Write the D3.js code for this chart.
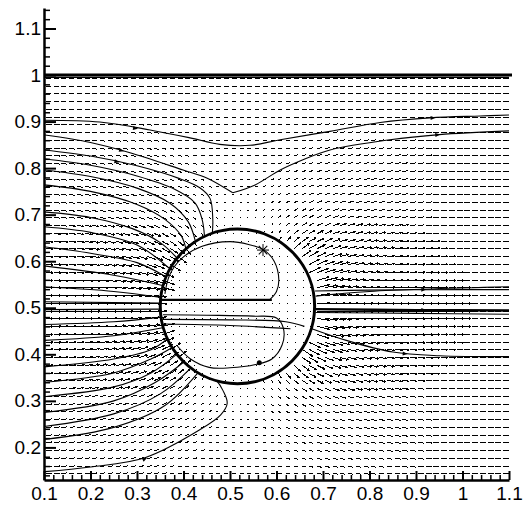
<!DOCTYPE html>
<html>
<head>
<meta charset="utf-8">
<script src="https://cdn.jsdelivr.net/npm/d3@7"></script>
<style>
  body { margin: 0; background: #fff; }
  svg { display: block; }
  .tick text { font-family: "Liberation Sans", Arial, sans-serif; font-size: 19px; fill: #000; }
</style>
</head>
<body>
<svg id="chart" width="524" height="508"></svg>
<script>
var width = 524,
    height = 508;

// axis ticks
const xMajor = [0.1, 0.2, 0.3, 0.4, 0.5, 0.6, 0.7, 0.8, 0.9, 1.0, 1.1];
const yMajor = [0.2, 0.3, 0.4, 0.5, 0.6, 0.7, 0.8, 0.9, 1.0, 1.1];
const minorStep = 0.02;

// drop (circle) and far field
const drop = { cx: 0.516, cy: 0.503, r: 0.166 };
const E0 = 1;

// vector grid
const gridX = d3.range(60).map(function (i) { return 0.104 + i / 60; });
const gridY = d3.range(52).map(function (i) { return 0.994 - i / 60; });

// streamlines [x, y]
const streamThin = [
    // top, passing over the drop
    [[0.102,0.903],[0.22,0.899],[0.328,0.882],[0.414,0.865],[0.478,0.851],[0.543,0.849],[0.608,0.861],[0.715,0.879],[0.823,0.898],[0.93,0.908],[1.038,0.912],[1.1,0.914]],
    // cusp line, left and right branch
    [[0.102,0.871],[0.2,0.855],[0.285,0.833],[0.399,0.796],[0.45,0.779],[0.506,0.747]],
    [[0.506,0.747],[0.554,0.764],[0.608,0.796],[0.657,0.818],[0.715,0.839],[0.844,0.861],[0.95,0.872],[1.1,0.88]],
    // upper-left family into the drop
    [[0.1,0.839],[0.2,0.826],[0.3,0.805],[0.39,0.778],[0.435,0.758],[0.457,0.735],[0.463,0.69],[0.462,0.66]],
    [[0.1,0.82],[0.2,0.806],[0.3,0.783],[0.38,0.755],[0.425,0.725],[0.44,0.69],[0.445,0.655]],
    [[0.1,0.796],[0.2,0.782],[0.3,0.757],[0.37,0.725],[0.41,0.685],[0.425,0.645]],
    [[0.1,0.764],[0.2,0.75],[0.3,0.722],[0.36,0.69],[0.395,0.655],[0.405,0.627]],
    [[0.1,0.706],[0.2,0.694],[0.29,0.67],[0.35,0.64],[0.385,0.608]],
    [[0.1,0.674],[0.2,0.662],[0.3,0.635],[0.368,0.586]],
    [[0.1,0.631],[0.2,0.617],[0.3,0.597],[0.36,0.568]],
    [[0.1,0.59],[0.25,0.57],[0.355,0.548]],
    // middle-left family
    [[0.1,0.545],[0.25,0.535],[0.352,0.522]],
    [[0.1,0.513],[0.35,0.51]],
    [[0.1,0.496],[0.35,0.497]],
    [[0.1,0.464],[0.25,0.47],[0.352,0.48]],
    [[0.1,0.43],[0.25,0.44],[0.355,0.457]],
    // lower-left family
    [[0.1,0.373],[0.25,0.39],[0.33,0.41],[0.365,0.433]],
    [[0.1,0.34],[0.25,0.36],[0.33,0.39],[0.375,0.414]],
    [[0.1,0.309],[0.25,0.33],[0.33,0.36],[0.385,0.4]],
    [[0.1,0.275],[0.25,0.3],[0.34,0.34],[0.4,0.383]],
    [[0.1,0.245],[0.25,0.272],[0.35,0.315],[0.415,0.37]],
    [[0.1,0.217],[0.25,0.243],[0.36,0.29],[0.43,0.359]],
    [[0.102,0.148],[0.2,0.158],[0.317,0.178],[0.435,0.238],[0.48,0.27],[0.494,0.295],[0.485,0.322],[0.47,0.345]],
    // right side, leaving the drop
    [[0.683,0.536],[0.8,0.538],[1.0,0.539],[1.1,0.539]],
    [[0.684,0.525],[0.8,0.535],[1.1,0.545]],
    [[0.684,0.49],[0.9,0.488],[1.1,0.486]],
    [[0.676,0.455],[0.75,0.43],[0.85,0.405],[0.95,0.397],[1.1,0.395]],
    // inside the drop
    [[0.585,0.517],[0.6,0.535],[0.605,0.56],[0.595,0.6],[0.572,0.625],[0.54,0.636],[0.5,0.642],[0.44,0.632],[0.395,0.605],[0.37,0.57],[0.36,0.53]],
    [[0.356,0.485],[0.45,0.484],[0.55,0.482],[0.6,0.478],[0.615,0.455],[0.612,0.42],[0.59,0.39],[0.555,0.378],[0.5,0.371],[0.455,0.372],[0.415,0.39],[0.385,0.42]],
    [[0.355,0.475],[0.5,0.474],[0.62,0.47],[0.66,0.46]],
    [[0.36,0.465],[0.5,0.462],[0.63,0.455]],
    // along the wall
    [[0.1,0.995],[1.1,0.995]]
];
const streamThick = [
    [[0.352,0.517],[0.59,0.517]],
    [[0.684,0.497],[0.9,0.495],[1.1,0.494]]
];
// small arrowheads sitting on streamlines [x, y, line index]
const streamHeads = [[0.3, 0.885, 0], [0.94, 0.908, 0], [0.27, 0.837, 1], [0.95, 0.872, 2], [0.26, 0.813, 4], [0.32, 0.177, 22], [0.92, 0.539, 23], [0.92, 0.495, -1], [0.88, 0.401, 26]];
const starPoint = [0.571, 0.624];
const blobPoint = [0.563, 0.382];

var x = d3.scaleLinear().domain([0.1, 1.1]).range([44, 509]);
var y = d3.scaleLinear().domain([0.13, 1.144]).range([480, 8]);

var svg = d3.select("#chart");

// field of a conducting drop in a uniform field
function field(px, py) {
    const dx = px - drop.cx, dy = py - drop.cy;
    const r2 = dx * dx + dy * dy;
    if (r2 < drop.r * drop.r) return null;
    const k = drop.r * drop.r / r2;
    const c2 = (dx * dx - dy * dy) / r2;
    const s2 = 2 * dx * dy / r2;
    return [E0 * (1 + k * c2), E0 * k * s2];
}

var arrows = [];
gridY.forEach(function (gy) {
    gridX.forEach(function (gx) {
        arrows.push({ x: gx, y: gy, v: field(gx, gy) });
    });
});

function arrowPath(d) {
    const x0 = Math.round(x(d.x)) + 0.5, y0 = Math.round(y(d.y)) + 0.5;
    if (!d.v) {
        return "M" + x0 + "," + y0 + "h1.5";
    }
    const m = Math.hypot(d.v[0], d.v[1]);
    const len = Math.min(12, 5 * Math.pow(m, 1.7));
    const ux = d.v[0] / m, uy = -d.v[1] / m;
    const x1 = x0 + ux * len, y1 = y0 + uy * len;
    var p = "M" + x0 + "," + y0 + "L" + x1 + "," + y1;
    if (len > 6) {
        const h = 2;
        const c = Math.cos(0.5), s = Math.sin(0.5);
        const bx1 = x1 - h * (ux * c - uy * s), by1 = y1 - h * (uy * c + ux * s);
        const bx2 = x1 - h * (ux * c + uy * s), by2 = y1 - h * (uy * c - ux * s);
        p += "M" + bx1 + "," + by1 + "L" + x1 + "," + y1 + "L" + bx2 + "," + by2;
    }
    return p;
}

svg.append("g")
    .attr("class", "vectors")
    .selectAll("path")
    .data(arrows)
    .join("path")
    .attr("d", arrowPath)
    .attr("fill", "none")
    .attr("stroke", "#000")
    .attr("stroke-width", 1)
    .attr("shape-rendering", "crispEdges");

var line = d3.line()
    .x(function (d) { return x(d[0]); })
    .y(function (d) { return y(d[1]); })
    .curve(d3.curveCatmullRom);

svg.append("g")
    .selectAll("path")
    .data(streamThin)
    .join("path")
    .attr("d", line)
    .attr("fill", "none")
    .attr("stroke", "#000")
    .attr("stroke-width", 1.1);

svg.append("g")
    .selectAll("path")
    .data(streamThick)
    .join("path")
    .attr("d", line)
    .attr("fill", "none")
    .attr("stroke", "#000")
    .attr("stroke-width", 2.4);

// arrowheads pointing along each streamline
function headAngle(d) {
    const pts = d[2] < 0 ? streamThick[1] : streamThin[d[2]];
    var best = 1;
    for (var i = 1; i < pts.length; i++) {
        if (pts[i][0] >= d[0]) { best = i; break; }
    }
    const a = pts[best - 1], b = pts[best];
    return Math.atan2(y(b[1]) - y(a[1]), x(b[0]) - x(a[0])) * 180 / Math.PI;
}
svg.append("g")
    .selectAll("path")
    .data(streamHeads)
    .join("path")
    .attr("d", "M-4,-2L1,0L-4,2Z")
    .attr("transform", function (d) {
        return "translate(" + x(d[0]) + "," + y(d[1]) + ") rotate(" + headAngle(d) + ")";
    })
    .attr("fill", "#000");

// star marker and blob inside the drop
var star = svg.append("g")
    .attr("transform", "translate(" + x(starPoint[0]) + "," + y(starPoint[1]) + ")");
[0, 45, 90, 135].forEach(function (a) {
    star.append("line")
        .attr("x1", -6).attr("x2", 6)
        .attr("transform", "rotate(" + a + ")")
        .attr("stroke", "#000").attr("stroke-width", 1);
});
svg.append("circle")
    .attr("cx", x(blobPoint[0]))
    .attr("cy", y(blobPoint[1]))
    .attr("r", 2.5)
    .attr("fill", "#000");

// drop outline
svg.append("ellipse")
    .attr("cx", x(drop.cx))
    .attr("cy", y(drop.cy))
    .attr("rx", x(drop.cx + drop.r) - x(drop.cx))
    .attr("ry", y(drop.cy - drop.r) - y(drop.cy))
    .attr("fill", "none")
    .attr("stroke", "#000")
    .attr("stroke-width", 3);

// wall at y = 1
svg.append("line")
    .attr("x1", x(0.1)).attr("x2", x(1.1) + 3)
    .attr("y1", y(1)).attr("y2", y(1))
    .attr("stroke", "#000")
    .attr("stroke-width", 3);

// axes
function minorTicks(lo, hi, majors) {
    return d3.range(Math.round((hi - lo) / minorStep) + 1)
        .map(function (i) { return +(lo + i * minorStep).toFixed(2); })
        .filter(function (v) {
            return !majors.some(function (m) { return Math.abs(m - v) < 1e-6; });
        });
}
function fmt(v) { return String(Math.round(v * 10) / 10); }

var yMinorAxis = svg.append("g")
    .attr("transform", "translate(" + x(0.1) + ",0)")
    .call(d3.axisLeft(y).tickValues(minorTicks(0.14, 1.14, yMajor)).tickSizeInner(-6).tickSizeOuter(0).tickFormat(""));
yMinorAxis.select(".domain").remove();
yMinorAxis.selectAll("line").attr("stroke-width", 1.5);

var yAxis = svg.append("g")
    .attr("transform", "translate(" + x(0.1) + ",0)")
    .call(d3.axisLeft(y).tickValues(yMajor).tickSizeInner(-12).tickSizeOuter(0).tickPadding(3).tickFormat(fmt));
yAxis.select(".domain").attr("stroke-width", 2.5);
yAxis.selectAll(".tick line").attr("stroke-width", 2);

var xMinorAxis = svg.append("g")
    .attr("transform", "translate(0," + y(0.13) + ")")
    .call(d3.axisBottom(x).tickValues(minorTicks(0.1, 1.1, xMajor)).tickSizeInner(-5).tickSizeOuter(0).tickFormat(""));
xMinorAxis.select(".domain").remove();
xMinorAxis.selectAll("line").attr("stroke-width", 1.5);

var xAxis = svg.append("g")
    .attr("transform", "translate(0," + y(0.13) + ")")
    .call(d3.axisBottom(x).tickValues(xMajor).tickSizeInner(-9).tickSizeOuter(0).tickPadding(7).tickFormat(fmt));
xAxis.select(".domain").attr("stroke-width", 2.5);
xAxis.selectAll(".tick line").attr("stroke-width", 2);
</script>
</body>
</html>
